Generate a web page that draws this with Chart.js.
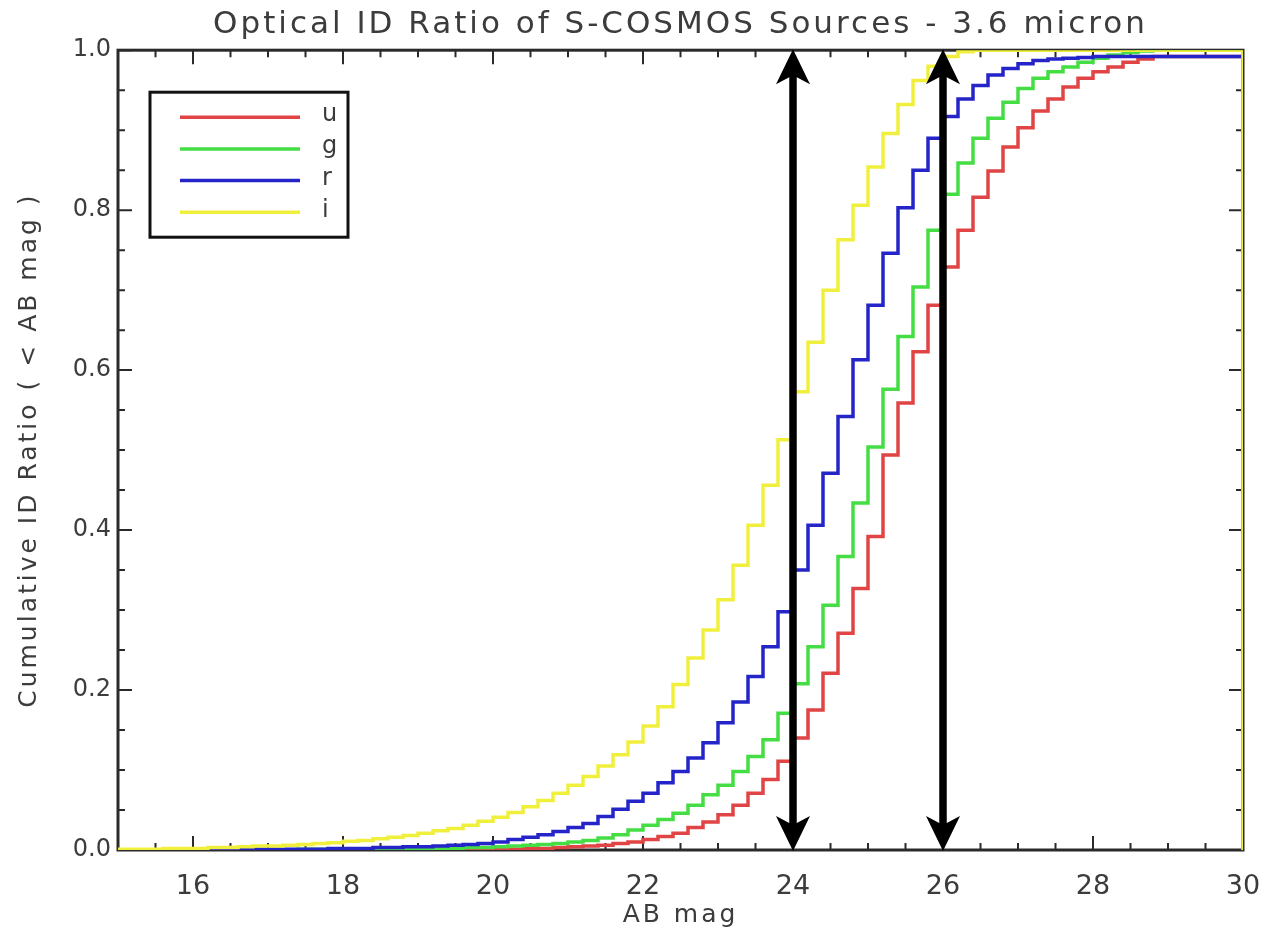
<!DOCTYPE html>
<html>
<head>
<meta charset="utf-8">
<title>Optical ID Ratio of S-COSMOS Sources</title>
<script src="https://cdn.jsdelivr.net/npm/chart.js@4/dist/chart.umd.min.js"></script>
<style>
	body { margin: 0; background: #fff; }
	#wrap { width: 1264px; height: 933px; }
</style>
</head>
<body>
<div id="wrap"><canvas id="ratio-chart" width="1264" height="933"></canvas></div>
<script>
// bin left edges (AB mag), 0.2 mag bins
const mags = [
	15.0, 15.2, 15.4, 15.6, 15.8, 16.0, 16.2, 16.4, 16.6, 16.8,
	17.0, 17.2, 17.4, 17.6, 17.8, 18.0, 18.2, 18.4, 18.6, 18.8,
	19.0, 19.2, 19.4, 19.6, 19.8, 20.0, 20.2, 20.4, 20.6, 20.8,
	21.0, 21.2, 21.4, 21.6, 21.8, 22.0, 22.2, 22.4, 22.6, 22.8,
	23.0, 23.2, 23.4, 23.6, 23.8, 24.0, 24.2, 24.4, 24.6, 24.8,
	25.0, 25.2, 25.4, 25.6, 25.8, 26.0, 26.2, 26.4, 26.6, 26.8,
	27.0, 27.2, 27.4, 27.6, 27.8, 28.0, 28.2, 28.4, 28.6, 28.8,
	29.0, 29.2, 29.4, 29.6, 29.8
];

const u_ratio = [
	0.000, 0.000, 0.000, 0.000, 0.000, 0.000, 0.000, 0.000, 0.000, 0.000,
	0.000, 0.000, 0.000, 0.000, 0.000, 0.000, 0.000, 0.000, 0.000, 0.000,
	0.000, 0.000, 0.000, 0.000, 0.001, 0.001, 0.001, 0.002, 0.002, 0.003,
	0.004, 0.005, 0.006, 0.008, 0.010, 0.013, 0.017, 0.021, 0.028, 0.035,
	0.044, 0.056, 0.071, 0.088, 0.111, 0.140, 0.175, 0.221, 0.271, 0.327,
	0.392, 0.494, 0.559, 0.623, 0.681, 0.729, 0.775, 0.816, 0.849, 0.879,
	0.903, 0.924, 0.939, 0.954, 0.965, 0.973, 0.979, 0.985, 0.989, 0.992,
	0.992, 0.992, 0.992, 0.992, 0.992
];

const g_ratio = [
	0.000, 0.000, 0.000, 0.000, 0.000, 0.000, 0.000, 0.000, 0.000, 0.000,
	0.000, 0.000, 0.001, 0.001, 0.001, 0.001, 0.001, 0.001, 0.001, 0.002,
	0.002, 0.002, 0.002, 0.003, 0.003, 0.004, 0.005, 0.006, 0.007, 0.008,
	0.010, 0.012, 0.015, 0.019, 0.025, 0.031, 0.038, 0.046, 0.056, 0.069,
	0.081, 0.098, 0.117, 0.138, 0.171, 0.208, 0.254, 0.306, 0.367, 0.434,
	0.504, 0.576, 0.642, 0.704, 0.775, 0.820, 0.859, 0.890, 0.915, 0.935,
	0.952, 0.965, 0.973, 0.979, 0.985, 0.990, 0.994, 0.997, 0.999, 1.000,
	1.000, 1.000, 1.000, 1.000, 1.000
];

const r_ratio = [
	0.000, 0.000, 0.000, 0.000, 0.000, 0.000, 0.000, 0.000, 0.001, 0.001,
	0.001, 0.001, 0.001, 0.001, 0.002, 0.002, 0.002, 0.003, 0.003, 0.004,
	0.004, 0.005, 0.006, 0.007, 0.008, 0.010, 0.013, 0.016, 0.019, 0.023,
	0.028, 0.033, 0.042, 0.051, 0.061, 0.071, 0.084, 0.098, 0.115, 0.134,
	0.159, 0.185, 0.217, 0.254, 0.298, 0.350, 0.406, 0.471, 0.542, 0.613,
	0.681, 0.746, 0.803, 0.850, 0.890, 0.917, 0.939, 0.956, 0.969, 0.977,
	0.983, 0.987, 0.989, 0.990, 0.991, 0.992, 0.992, 0.992, 0.992, 0.992,
	0.992, 0.992, 0.992, 0.992, 0.992
];

const i_ratio = [
	0.001, 0.001, 0.001, 0.002, 0.002, 0.002, 0.003, 0.003, 0.004, 0.005,
	0.005, 0.006, 0.007, 0.008, 0.009, 0.011, 0.012, 0.014, 0.016, 0.018,
	0.021, 0.024, 0.027, 0.031, 0.036, 0.041, 0.047, 0.054, 0.062, 0.071,
	0.081, 0.092, 0.105, 0.119, 0.135, 0.155, 0.179, 0.207, 0.240, 0.275,
	0.313, 0.356, 0.406, 0.456, 0.513, 0.573, 0.635, 0.700, 0.763, 0.806,
	0.854, 0.896, 0.932, 0.962, 0.980, 0.992, 0.998, 1.000, 1.000, 1.000,
	1.000, 1.000, 1.000, 1.000, 1.000, 1.000, 1.000, 1.000, 1.000, 1.000,
	1.000, 1.000, 1.000, 1.000, 1.000
];

const band_labels = ['u', 'g', 'r', 'i'];
const band_colors = ['#e04444', '#44dd44', '#2424c8', '#f0f03c'];
const x_ticks = [16, 18, 20, 22, 24, 26, 28, 30];
const y_ticks = [0.0, 0.2, 0.4, 0.6, 0.8, 1.0];
const arrow_mags = [24, 26];
const x_min = 15;
const x_max = 30;

const font_name = "'DejaVu Sans', sans-serif";
const text_color = '#3c3c3c';

document.addEventListener("DOMContentLoaded", function() {
	const ctx = document.getElementById('ratio-chart').getContext('2d');
	const band_data = [u_ratio, g_ratio, r_ratio, i_ratio];

	let datasets = [];
	for (let b in band_labels) {
		let pts = mags.map((m, k) => ({ x: m, y: band_data[b][k] }));
		pts.push({ x: x_max, y: 0 });
		datasets.push({
			label: band_labels[b],
			data: pts,
			borderColor: band_colors[b],
			borderWidth: 3.5,
			pointRadius: 0,
			stepped: true,
			fill: false,
			order: 3 - b
		});
	}

	// wide Hershey-like spacing for the titles (tick labels sit on z:1, drawn after reset)
	const spacing_plugin = {
		id: 'spacing',
		beforeDraw(chart) { chart.ctx.letterSpacing = '3px'; },
		beforeDatasetsDraw(chart) { chart.ctx.letterSpacing = '0px'; }
	};

	// frame + inward ticks (IDL style box)
	const frame_plugin = {
		id: 'frame',
		beforeDatasetsDraw(chart) {
			const c = chart.ctx;
			const a = chart.chartArea;
			const xs = chart.scales.x;
			const ys = chart.scales.y;
			c.save();
			c.strokeStyle = '#2a2a2a';
			c.lineWidth = 2;
			for (let v = x_min; v <= x_max; v += 0.5) {
				let px = xs.getPixelForValue(v);
				let len = (v % 2 === 0) ? 14 : 7;
				c.beginPath();
				c.moveTo(px, a.bottom); c.lineTo(px, a.bottom - len);
				c.moveTo(px, a.top); c.lineTo(px, a.top + len);
				c.stroke();
			}
			for (let k = 0; k <= 20; k++) {
				let py = ys.getPixelForValue(k * 0.05);
				let len = (k % 4 === 0) ? 14 : 7;
				c.beginPath();
				c.moveTo(a.left, py); c.lineTo(a.left + len, py);
				c.moveTo(a.right, py); c.lineTo(a.right - len, py);
				c.stroke();
			}
			c.lineWidth = 3;
			c.strokeRect(a.left, a.top, a.right - a.left, a.bottom - a.top);
			c.restore();
		},
		afterDatasetsDraw(chart) {
			const c = chart.ctx;
			const a = chart.chartArea;
			const xs = chart.scales.x;
			const ys = chart.scales.y;
			c.save();
			// double headed arrows
			for (let m of arrow_mags) {
				let px = xs.getPixelForValue(m);
				let top = ys.getPixelForValue(1);
				let bot = ys.getPixelForValue(0);
				c.strokeStyle = '#000';
				c.fillStyle = '#000';
				c.lineWidth = 7.5;
				c.beginPath();
				c.moveTo(px, top + 20); c.lineTo(px, bot - 20);
				c.stroke();
				c.beginPath();
				c.moveTo(px, top - 1);
				c.lineTo(px + 17, top + 34);
				c.lineTo(px, top + 25);
				c.lineTo(px - 17, top + 34);
				c.closePath();
				c.fill();
				c.beginPath();
				c.moveTo(px, bot + 1);
				c.lineTo(px + 17, bot - 34);
				c.lineTo(px, bot - 25);
				c.lineTo(px - 17, bot - 34);
				c.closePath();
				c.fill();
			}
			// legend box
			let lx = a.left + 32;
			let ly = a.top + 42;
			c.fillStyle = '#fff';
			c.fillRect(lx, ly, 198, 145);
			c.strokeStyle = '#111';
			c.lineWidth = 3;
			c.strokeRect(lx, ly, 198, 145);
			c.font = "24px " + font_name;
			c.textBaseline = 'middle';
			c.textAlign = 'left';
			for (let b in band_labels) {
				let yy = ly + 25 + b * 31.7;
				c.strokeStyle = band_colors[b];
				c.lineWidth = 3.5;
				c.beginPath();
				c.moveTo(lx + 30, yy); c.lineTo(lx + 150, yy);
				c.stroke();
				c.fillStyle = text_color;
				c.fillText(band_labels[b], lx + 172, yy - 2);
			}
			c.restore();
		}
	};

	const ratio_chart = new Chart(ctx, {
		type: 'line',
		data: { datasets: datasets },
		options: {
			responsive: false,
			animation: false,
			layout: { padding: { left: 0, right: 21, top: 0, bottom: 0 } },
			plugins: {
				legend: { display: false },
				tooltip: { enabled: false },
				title: {
					display: true,
					fullSize: false,
					text: 'Optical ID Ratio of S-COSMOS Sources - 3.6 micron',
					color: text_color,
					font: { family: font_name, size: 31, weight: 'normal' },
					padding: { top: 6, bottom: 7 }
				}
			},
			scales: {
				x: {
					type: 'linear',
					min: x_min,
					max: x_max,
					afterBuildTicks: s => { s.ticks = x_ticks.map(v => ({ value: v })); },
					afterFit: s => { s.height = 83; s.paddingLeft = 0; s.paddingRight = 0; },
					grid: { display: false, drawTicks: false },
					border: { display: false },
					ticks: {
						z: 1,
						padding: 21,
						color: text_color,
						font: { family: font_name, size: 27 },
						callback: v => String(v)
					},
					title: {
						display: true,
						text: 'AB mag',
						color: text_color,
						font: { family: font_name, size: 25 },
						padding: { top: 0, bottom: 3 }
					}
				},
				y: {
					min: 0,
					max: 1,
					afterBuildTicks: s => { s.ticks = y_ticks.map(v => ({ value: v })); },
					afterFit: s => { s.width = 118; },
					grid: { display: false, drawTicks: false },
					border: { display: false },
					ticks: {
						z: 1,
						padding: 7,
						color: text_color,
						font: { family: font_name, size: 24 },
						callback: v => v.toFixed(1)
					},
					title: {
						display: true,
						text: 'Cumulative ID Ratio ( < AB mag )',
						color: text_color,
						font: { family: font_name, size: 25 },
						padding: { top: 14, bottom: 0 }
					}
				}
			}
		},
		plugins: [spacing_plugin, frame_plugin]
	});
});
</script>
</body>
</html>
